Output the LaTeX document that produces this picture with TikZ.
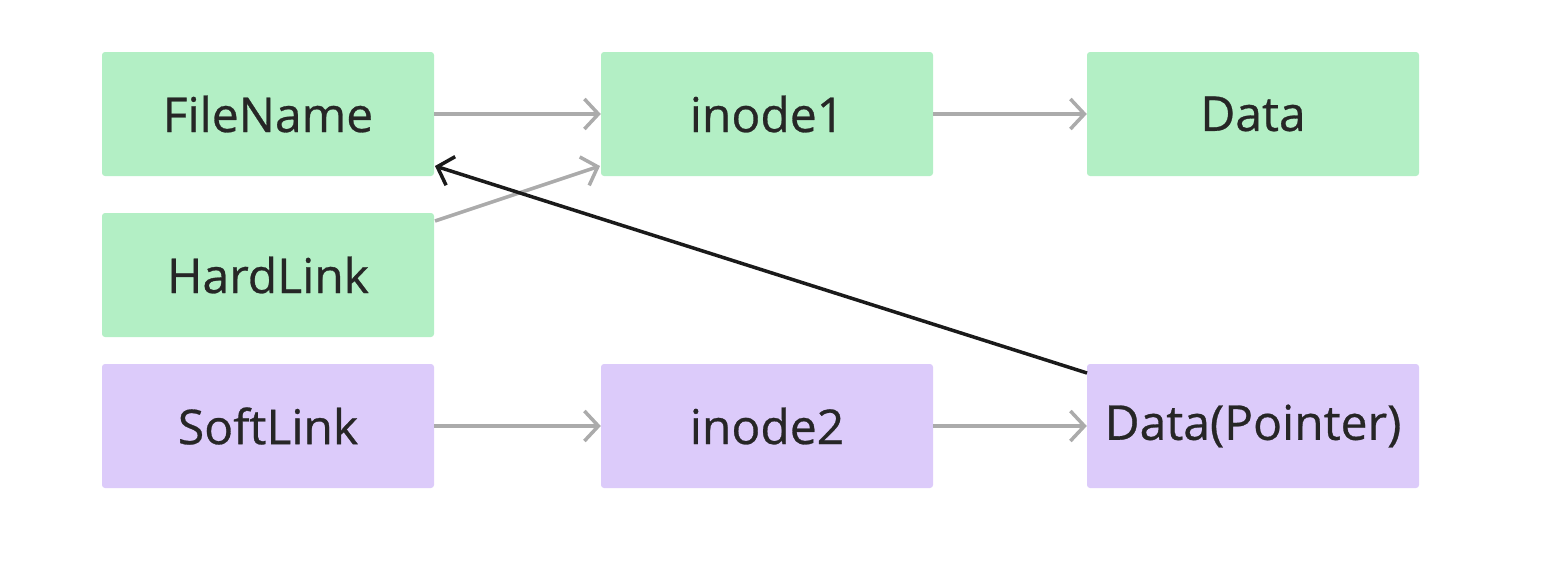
\documentclass[tikz,border=0pt]{standalone}
\usepackage{fontspec}
\setmainfont{Open Sans}
\newfontfamily\boxfont[FakeBold=0.6]{Open Sans}
\usetikzlibrary{arrows.meta}
\definecolor{boxgreen}{HTML}{B3EFC5}
\definecolor{boxpurple}{HTML}{DCCBFA}
\definecolor{txt}{HTML}{262626}
\definecolor{edgegray}{HTML}{ABABAB}
\definecolor{edgeblack}{HTML}{1A1A1A}
\tikzset{
  box/.style={rounded corners=3pt, minimum width=332pt, minimum height=124pt, inner sep=0pt, text=txt, font=\boxfont\fontsize{48}{52}\selectfont},
  gbox/.style={box, fill=boxgreen},
  pbox/.style={box, fill=boxpurple},
  garrow/.style={draw=edgegray, line width=3.5pt, -{Straight Barb[length=14pt, width=30pt, line width=3.5pt]}},
  barrow/.style={draw=edgeblack, line width=3.5pt, -{Straight Barb[length=14pt, width=30pt, line width=3.5pt]}}
}
\begin{document}
\begin{tikzpicture}[x=1pt, y=-1pt]
\useasboundingbox (0,0) rectangle (1554,568);
\node[gbox] (fn) at (268,114) {FileName};
\node[gbox] (in1) at (767,114) {inode1};
\node[gbox] (data) at (1253,114) {Data};
\node[gbox] (hl) at (268,275) {HardLink};
\node[pbox] (sl) at (268,426) {SoftLink};
\node[pbox] (in2) at (767,426) {inode2};
\node[pbox] (dp) at (1253,426) {Data(Pointer)};
\coordinate (hlstart) at (435,221);
\coordinate (in1end) at (600,166);
\coordinate (dpstart) at (1087,373);
\coordinate (fnend) at (435,166);
\draw[garrow] (fn.east) -- (in1.west);
\draw[garrow] (in1.east) -- (data.west);
\draw[garrow] (sl.east) -- (in2.west);
\draw[garrow] (in2.east) -- (dp.west);
\draw[garrow] (hlstart) -- (in1end);
\draw[barrow] (dpstart) -- (fnend);
\end{tikzpicture}
\end{document}
